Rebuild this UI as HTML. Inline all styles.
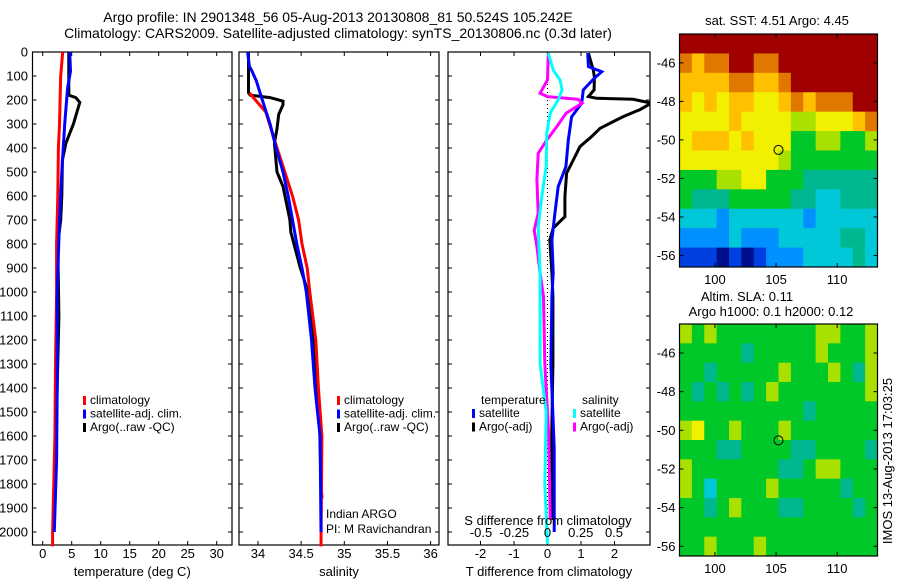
<!DOCTYPE html>
<html><head><meta charset="utf-8"><style>
html,body{margin:0;padding:0;background:#fff;}
svg{display:block;font-family:"Liberation Sans",sans-serif;}
</style></head><body>
<svg id="fig" width="900" height="580" viewBox="0 0 900 580" xmlns="http://www.w3.org/2000/svg"></svg>
<script>
// ---------- data ----------
const tempTicks = [0,5,10,15,20,25,30];
const salTicks = [34,34.5,35,35.5,36];
const tdiffTicks = [-2,-1,0,1,2];
const sdiffTicks = [-0.5,-0.25,0,0.25,0.5];
const sdiffTickLabels = ['-0.5','-0.25','0','0.25','0.5'];
const depthTicks = [0,100,200,300,400,500,600,700,800,900,1000,1100,1200,1300,1400,1500,1600,1700,1800,1900,2000];

const tClimDepth = [0,100,300,400,600,800,1000,1300,1600,2000,2060];
const tClimVal   = [3.45,3.1,2.9,2.7,2.6,2.4,2.4,2.2,2.1,1.7,1.7];
const tSatDepth = [0,80,150,300,500,700,1000,1400,1700,2000];
const tSatVal   = [4.65,4.8,4.3,3.8,3.3,2.9,2.5,2.5,2.4,2.0];
const tArgoDepth = [0,100,180,190,210,300,380,450,600,700,800,1100,1500,1800,1950];
const tArgoVal   = [4.5,4.5,4.5,5.7,6.4,5.3,4.0,3.4,3.3,3.1,2.6,2.8,2.4,2.1,2.0];

const sClimDepth = [170,200,250,400,500,600,700,800,900,1000,1200,1400,1600,2060];
const sClimVal   = [33.9,33.97,34.09,34.22,34.31,34.40,34.47,34.51,34.57,34.60,34.67,34.70,34.74,34.73];
const sSatDepth = [0,60,80,120,200,300,400,500,600,700,800,900,1000,1200,1400,1500,1600,2000];
const sSatVal   = [33.88,33.9,33.93,33.98,34.05,34.14,34.21,34.29,34.35,34.4,34.45,34.51,34.56,34.62,34.66,34.69,34.72,34.73];
const sArgoDepth = [0,170,180,190,205,220,260,320,380,500,560,700,750,900,1000,1200,1500,1800,1860];
const sArgoVal   = [33.89,33.89,33.91,34.14,34.29,34.29,34.24,34.22,34.19,34.22,34.29,34.37,34.38,34.49,34.58,34.64,34.71,34.73,34.74];

const dTSatDepth = [5,61,82,110,158,213,270,367,478,561,672,783,921,1019,1300,1650,2000];
const dTSatVal   = [1.2,1.22,1.62,1.39,1.07,1.02,0.72,0.62,0.55,0.32,0.22,0.13,0.17,0.13,0.1,0.2,0.2];
const dTArgoDepth = [5,77,105,158,186,193,197,213,240,269,290,318,352,394,450,505,603,686,734,783,921,1019,1300,1650,1950];
const dTArgoVal   = [1.22,1.37,1.4,1.39,1.22,1.47,2.56,3.1,2.76,2.26,1.96,1.57,1.32,0.97,0.77,0.57,0.52,0.52,0.17,0.07,0.13,0.16,0.16,0.12,0.15];
const dSArgoDepth = [5,116,172,186,197,213,255,311,367,422,533,672,742,811,921,1019,1300,1600,1950];
const dSArgoVal   = [0.006,0,-0.056,0,0.23,0.26,0.14,0.07,-0.006,-0.07,-0.08,-0.07,-0.1,-0.08,-0.056,-0.03,-0.02,0.01,0.02];
const dSSatDepth = [5,77,116,158,200,255,339,478,589,728,921,1019,1300,1500,1800,2050];
const dSSatVal   = [0.006,0.044,0.094,0.11,0.08,0.02,-0.006,-0.01,-0.04,-0.07,-0.056,-0.056,-0.056,-0.01,-0.02,0];

const sstGrid = [
[10,10,10,10,10,10,10,10,10,10,10,10,10,10,10,10],
[9,8,9,9,10,10,9,9,10,10,10,10,10,10,10,10],
[8,8,8,8,9,9,8,8,9,10,10,10,10,10,10,10],
[8,7,8,7,8,8,7,7,8,9,8,9,9,9,10,10],
[7,7,7,7,8,7,7,7,7,6,6,7,7,7,8,9],
[7,8,8,8,7,8,7,7,7,5,5,6,6,5,5,6],
[7,7,7,7,7,7,7,7,6,5,5,5,5,5,5,5],
[5,5,5,6,6,7,7,5,5,5,4,4,4,4,4,4],
[5,4,4,4,5,5,5,5,5,4,4,3,3,4,4,4],
[3,3,3,2,3,3,3,3,3,3,2,3,3,3,3,3],
[2,2,2,2,3,2,2,2,3,3,3,3,3,4,4,3],
[1,1,1,0,1,0,1,2,2,2,3,3,3,3,4,3]];
const slaGrid = [
[6,5,6,5,5,5,5,5,5,5,5,6,6,5,5,6],
[5,5,5,5,5,4,5,5,5,5,5,6,5,5,5,6],
[5,5,4,5,5,5,5,5,6,5,5,5,6,5,4,6],
[5,4,5,4,5,4,5,6,5,5,5,5,5,5,5,6],
[5,5,5,5,5,5,5,5,5,5,4,5,5,5,5,5],
[6,7,5,5,6,5,5,5,6,5,5,5,5,5,5,5],
[5,5,5,4,4,5,5,5,5,4,4,5,5,5,5,4],
[6,5,5,5,5,5,5,5,4,4,5,6,6,5,5,5],
[6,5,3,5,5,5,5,6,5,5,5,5,5,4,5,5],
[5,5,4,5,6,5,5,5,4,4,5,5,5,5,4,5],
[5,5,5,5,5,5,5,5,5,5,5,5,5,5,5,5],
[5,5,6,5,5,5,6,5,5,5,5,5,5,5,5,5]];
const mapLonTicks = [100,105,110];
const sstLatTicks = [-46,-48,-50,-52,-54,-56];
const slaLatTicks = [-46,-48,-50,-52,-54,-56];
const argoLon = [105.2];
const argoLat = [-50.52];
const palette = ['#00108c','#0040e0','#0090ff','#00c8d8','#00b890','#00c828','#a8e000','#f0f000','#ffc000','#e07800','#a00000'];

// ---------- helpers ----------
const NS='http://www.w3.org/2000/svg';
const svg=document.getElementById('fig');
function mk(tag,attrs,parent){const e=document.createElementNS(NS,tag);for(const k in attrs)e.setAttribute(k,attrs[k]);(parent||svg).appendChild(e);return e;}
function txt(s,x,y,anchor,size,parent){const t=mk('text',{x:x,y:y,'text-anchor':anchor||'middle','font-size':size||12,fill:'#000'},parent);t.textContent=s;return t;}
const TOP=52, BOT=545;
const yD = d => TOP + d*0.24;

function panel(name,L,R,xs,ticks,labels,xlabel,labelY){
  const g=mk('g',{});
  
  
  const b=mk('rect',{x:L,y:TOP,width:R-L,height:BOT-TOP,fill:'none',stroke:'#000','stroke-width':1.2},g);
  
  
  depthTicks.forEach(d=>{const y=yD(d);mk('line',{x1:L,x2:L+4,y1:y,y2:y,stroke:'#000'},g);mk('line',{x1:R-4,x2:R,y1:y,y2:y,stroke:'#000'},g);});
  ticks.forEach((v,i)=>{const x=xs(v);mk('line',{x1:x,x2:x,y1:TOP,y2:TOP+4,stroke:'#000'},g);mk('line',{x1:x,x2:x,y1:BOT-4,y2:BOT,stroke:'#000'},g);
    const t=txt(labels[i],x,558,'middle',13,g);
    
    });
  const xl=txt(xlabel,(L+R)/2,labelY,'middle',13,g);
  
  
  return g;
}
function line(name,depths,vals,xs,color,g,w){
  const pts=depths.map((d,i)=>xs(vals[i]).toFixed(1)+','+yD(d).toFixed(1)).join(' ');
  const p=mk('polyline',{points:pts,fill:'none',stroke:color,'stroke-width':w||3,'stroke-linejoin':'miter'},g);
  
  
}
function legend(items,x,y0,g){
  items.forEach((it,i)=>{const y=y0+i*13.5;
    const m=mk('rect',{x:x,y:y-8,width:3,height:9,fill:it[1]},g);
    
    
    const t=txt(it[0],x+7,y,'start',12,g);
    
    });
}

// titles
const t1=txt('Argo profile: IN 2901348_56 05-Aug-2013 20130808_81 50.524S 105.242E',338,22,'middle',14);


const t2=txt('Climatology: CARS2009. Satellite-adjusted climatology: synTS_20130806.nc (0.3d later)',338,38,'middle',14);



// depth labels
depthTicks.forEach(d=>{const t=txt(String(d),28,yD(d)+4.5,'end',13);
  
  });

// panel 1 temperature
const xT = v => 42.7 + v*5.8;
const g1=panel('temperature-panel',32.5,232,xT,tempTicks,tempTicks.map(String),'temperature (deg C)',576);
line('argo-temperature-line',tArgoDepth,tArgoVal,xT,'#000',g1);
line('climatology-temperature-line',tClimDepth,tClimVal,xT,'#ff0000',g1);
line('satellite-temperature-line',tSatDepth,tSatVal,xT,'#0000ff',g1);
legend([['climatology','#ff0000'],['satellite-adj. clim.','#0000ff'],['Argo(..raw -QC)','#000']],83,404,g1);

// panel 2 salinity
const xS = v => 258 + (v-34)*86.3;
const g2=panel('salinity-panel',239,439,xS,salTicks,salTicks.map(String),'salinity',576);
line('argo-salinity-line',sArgoDepth,sArgoVal,xS,'#000',g2);
line('climatology-salinity-line',sClimDepth,sClimVal,xS,'#ff0000',g2);
line('satellite-salinity-line',sSatDepth,sSatVal,xS,'#0000ff',g2);
legend([['climatology','#ff0000'],['satellite-adj. clim.','#0000ff'],['Argo(..raw -QC)','#000']],337,404,g2);
const ia=txt('Indian ARGO',326,518,'start',12,g2);


const pi=txt('PI: M Ravichandran',326,533,'start',12,g2);



// panel 3 differences
const xdT = v => 547.5 + v*33.5;
const xdS = v => 547.5 + v*133;
const g3=panel('difference-panel',448,650,xdT,tdiffTicks,tdiffTicks.map(String),'T difference from climatology',576);
const zl=mk('line',{x1:xdT(0),x2:xdT(0),y1:TOP,y2:BOT,stroke:'#000','stroke-dasharray':'1,3'},g3);


const clip=mk('clipPath',{id:'c3'});
mk('rect',{x:448,y:TOP,width:202,height:BOT-TOP},clip);
const g3c=mk('g',{'clip-path':'url(#c3)'},g3);
line('argo-temperature-difference-line',dTArgoDepth,dTArgoVal,xdT,'#000',g3c);
line('satellite-temperature-difference-line',dTSatDepth,dTSatVal,xdT,'#0000ff',g3c);
line('argo-salinity-difference-line',dSArgoDepth,dSArgoVal,xdS,'#ff00ff',g3c);
line('satellite-salinity-difference-line',dSSatDepth,dSSatVal,xdS,'#00ffff',g3c);
sdiffTicks.forEach((v,i)=>{const t=txt(sdiffTickLabels[i],xdS(v),537,'middle',13,g3);
  
  });
const sdl=txt('S difference from climatology',548,525,'middle',13,g3);


const lh1=txt('temperature',481,404,'start',12,g3);


const lh2=txt('salinity',582,404,'start',12,g3);


legend([['satellite','#0000ff'],['Argo(-adj)','#000']],472,417,g3);
legend([['satellite','#00ffff'],['Argo(-adj)','#ff00ff']],573,417,g3);

// maps
function map(name,grid,L,R,T,B,latTop,latBot,lonL,lonR,latTicks){
  const g=mk('g',{});
  
  
  const xl = lon => L + (lon-lonL)/(lonR-lonL)*(R-L);
  const yl = lat => T + (latTop-lat)/(latTop-latBot)*(B-T);
  const nr=grid.length, nc=grid[0].length;
  const dlon=(lonR-lonL)/nc, dlat=(latTop-latBot)/nr;
  grid.forEach((row,r)=>row.forEach((v,c)=>{
    const x0=xl(lonL+c*dlon), x1=xl(lonL+(c+1)*dlon), y0=yl(latTop-r*dlat), y1=yl(latTop-(r+1)*dlat);
    const cell=mk('rect',{x:x0,y:y0,width:x1-x0+0.5,height:y1-y0+0.5,fill:palette[v]},g);
    
    
  }));
  const fr=mk('rect',{x:L,y:T,width:R-L,height:B-T,fill:'none',stroke:'#000','stroke-width':1.2},g);
  
  
  mapLonTicks.forEach(v=>{const x=xl(v);mk('line',{x1:x,x2:x,y1:T,y2:T+4,stroke:'#000'},g);mk('line',{x1:x,x2:x,y1:B-4,y2:B,stroke:'#000'},g);
    const t=txt(String(v),x,B+17,'middle',13,g);
    
    });
  latTicks.forEach(v=>{const y=yl(v);if(y<T||y>B)return;mk('line',{x1:L,x2:L+4,y1:y,y2:y,stroke:'#000'},g);mk('line',{x1:R-4,x2:R,y1:y,y2:y,stroke:'#000'},g);
    const t=txt(String(v),L-4,y+4.5,'end',13,g);
    
    });
  argoLon.forEach((lo,i)=>{const c=mk('circle',{cx:xl(lo),cy:yl(argoLat[i]),r:4.5,fill:'none',stroke:'#000','stroke-width':1},g);
    
    });
  return g;
}
map('sst-map',sstGrid,679.5,877.5,34,267,-44.5,-56.6,97.1,113.3,sstLatTicks);
map('sla-map',slaGrid,679.5,877.5,324,556,-44.5,-56.5,97.1,113.3,slaLatTicks);
const mt1=txt('sat. SST: 4.51 Argo: 4.45',777,25,'middle',13);


const mt2=txt('Altim. SLA: 0.11',747,301,'middle',13);


const mt3=txt('Argo h1000: 0.1 h2000: 0.12',771,316,'middle',13);


const im=txt('IMOS 13-Aug-2013 17:03:25',0,0,'middle',13);
im.setAttribute('transform','translate(892,461) rotate(-90)');


</script>
</body></html>
